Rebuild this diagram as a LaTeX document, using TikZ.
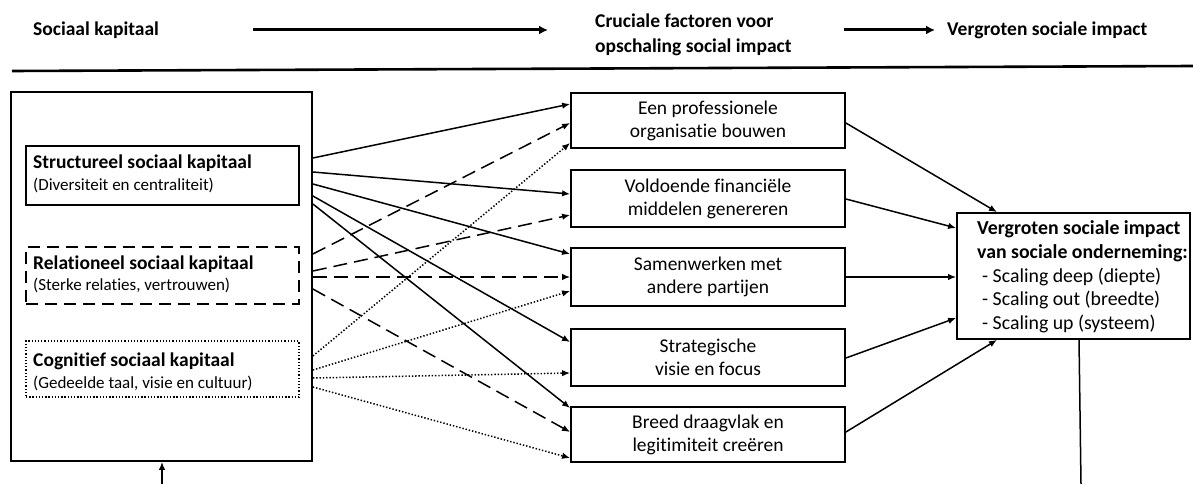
\documentclass[tikz,border=0pt]{standalone}
\usepackage{fontspec}
\setmainfont{Carlito}[Ligatures=NoCommon]
\usetikzlibrary{arrows.meta}

\begin{document}
\begin{tikzpicture}[x=1pt,y=-1pt,
  frame/.style={draw=black,line width=1.8pt,inner sep=0pt},
  factor/.style={frame,minimum width=274pt,align=center,
    font=\fontsize{19.5}{23}\selectfont},
  capbox/.style={frame,minimum width=273pt},
  title/.style={anchor=west,inner sep=0pt,font=\bfseries\fontsize{19.5}{22}\selectfont},
  sub/.style={anchor=west,inner sep=0pt,font=\fontsize{17}{20}\selectfont},
  head/.style={anchor=west,inner sep=0pt,align=left,font=\bfseries\fontsize{19.5}{24.5}\selectfont},
  link/.style={line width=1.5pt,-{Latex[length=8pt,width=6.5pt]}},
  dashlink/.style={link,dash pattern=on 14pt off 7pt},
  dotlink/.style={link,dash pattern=on 1.4pt off 1.9pt},
  bigarrow/.style={line width=3pt,-{Latex[length=9pt,width=9pt]}}
]
\useasboundingbox (0,0) rectangle (1193,484);

% header row
\node[head] (h1) at (33,30) {Sociaal kapitaal};
\node[head] (h2) at (595,35) {Cruciale factoren voor\\opschaling social impact};
\node[head] (h3) at (947,30) {Vergroten sociale impact};
\coordinate (a1s) at (253,30);
\coordinate (a1e) at (548,30);
\coordinate (a2s) at (844,30);
\coordinate (a2e) at (935,30);
\draw[bigarrow] (a1s) -- (a1e);
\draw[bigarrow] (a2s) -- (a2e);
\draw[line width=2.6pt] (12,71) -- (1193,66);

% social capital column
\node[frame,minimum width=301pt,minimum height=369pt] (outer) at (161.5,276.5) {};
\node[capbox,minimum height=59pt] (sk) at (162.5,175.5) {};
\node[capbox,minimum height=57pt,dash pattern=on 12pt off 7pt] (rk) at (162.5,275.5) {};
\node[capbox,minimum height=56pt,line width=1.5pt,dash pattern=on 1.3pt off 1.9pt] (ck) at (162.5,369) {};
\node[title] (skt) at (33,163) {Structureel sociaal kapitaal};
\node[sub] (sks) at (33,185) {(Diversiteit en centraliteit)};
\node[title] (rkt) at (33,264) {Relationeel sociaal kapitaal};
\node[sub] (rks) at (33,285) {(Sterke relaties, vertrouwen)};
\node[title] (ckt) at (33,361) {Cognitief sociaal kapitaal};
\node[sub] (cks) at (33,383) {(Gedeelde taal, visie en cultuur)};

% crucial factors
\node[factor,minimum height=55pt] (f1) at (708,120.5) {Een professionele\\organisatie bouwen};
\node[factor,minimum height=57pt] (f2) at (708,198.5) {Voldoende financiële\\middelen genereren};
\node[factor,minimum height=58pt] (f3) at (708,277) {Samenwerken met\\andere partijen};
\node[factor,minimum height=57pt] (f4) at (708,357.5) {Strategische\\visie en focus};
\node[factor,minimum height=55pt] (f5) at (708,434.5) {Breed draagvlak en\\legitimiteit creëren};

% outcome
\node[frame,minimum width=233pt,minimum height=126pt] (res) at (1073.5,276) {};
\node[anchor=west,inner sep=0pt,align=left,font=\fontsize{19.8}{23.7}\selectfont] (rest) at (977,277)
  {\textbf{Vergroten sociale impact}\\\textbf{van sociale onderneming:}\\
   \hspace*{5pt}- Scaling deep (diepte)\\\hspace*{5pt}- Scaling out (breedte)\\\hspace*{5pt}- Scaling up (systeem)};

% structural links
\draw[link] (outer.east |- 0,158) -- (f1.west |- 0,104);
\draw[link] (outer.east |- 0,172) -- (f2.west |- 0,194);
\draw[link] (outer.east |- 0,184) -- (f3.west |- 0,254);
\draw[link] (outer.east |- 0,196) -- (f4.west |- 0,342);
\draw[link] (outer.east |- 0,204) -- (f5.west |- 0,408);
% relational links
\draw[dashlink] (outer.east |- 0,254) -- (f1.west |- 0,123);
\draw[dashlink] (outer.east |- 0,271) -- (f2.west |- 0,215);
\draw[dashlink] (outer.east |- 0,277) -- (f3.west |- 0,277);
\draw[dashlink] (outer.east |- 0,289) -- (f5.west |- 0,432);
% cognitive links
\draw[dotlink] (outer.east |- 0,356) -- (f1.west |- 0,143);
\draw[dotlink] (outer.east |- 0,370) -- (f3.west |- 0,291);
\draw[dotlink] (outer.east |- 0,378) -- (f4.west |- 0,373);
\draw[dotlink] (outer.east |- 0,387) -- (f5.west |- 0,458);

% factors to outcome
\draw[link] (f1.east |- 0,123) -- (res.north -| 997,0);
\draw[link] (f2.east |- 0,199) -- (res.west |- 0,228);
\draw[link] (f3.east |- 0,277) -- (res.west |- 0,277);
\draw[link] (f4.east |- 0,358) -- (res.west |- 0,318);
\draw[link] (f5.east |- 0,432) -- (res.south -| 997,0);

% feedback lines at the bottom
\coordinate (down) at (1081,484);
\draw[line width=1.5pt] (res.south -| 1079,0) -- (down);
\coordinate (up) at (162,484);
\draw[link] (up) -- (outer.south -| up);
\end{tikzpicture}
\end{document}
